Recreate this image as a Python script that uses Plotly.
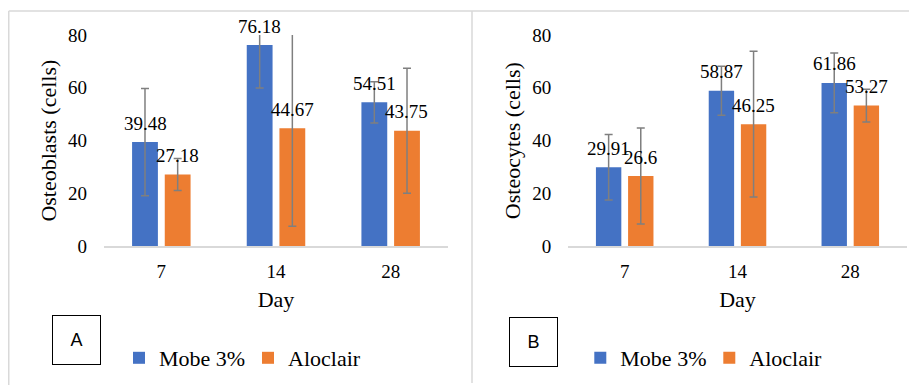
import plotly.graph_objects as go

days = ["7", "14", "28"]
series_names = ["Mobe 3%", "Aloclair"]
colors = ["#4472C4", "#ED7D31"]

osteoblasts_mobe = [39.48, 76.18, 54.51]
osteoblasts_aloclair = [27.18, 44.67, 43.75]
osteoblasts_mobe_err = [20.3, 16.2, 7.8]
osteoblasts_aloclair_err = [6.1, 37.1, 23.7]

osteocytes_mobe = [29.91, 58.87, 61.86]
osteocytes_aloclair = [26.6, 46.25, 53.27]
osteocytes_mobe_err = [12.4, 9.3, 11.3]
osteocytes_aloclair_err = [18.2, 27.6, 6.2]

y_ticks = [0, 20, 40, 60, 80]

W, H = 917, 385
OFF = 8  # page body margin offset (screen px)
SERIF = "Liberation Serif"
ERR_COLOR = "#7F7F7F"
GRID = "#D9D9D9"


def px(x):
    return (x - OFF) / W


def py(y):
    return (H - (y - OFF)) / H


fig = go.Figure()

panels = [
    ("x", "y", "legend", [osteoblasts_mobe, osteoblasts_aloclair],
     [osteoblasts_mobe_err, osteoblasts_aloclair_err]),
    ("x2", "y2", "legend2", [osteocytes_mobe, osteocytes_aloclair],
     [osteocytes_mobe_err, osteocytes_aloclair_err]),
]

for xa, ya, lg, vals, errs in panels:
    for name, color, v, e in zip(series_names, colors, vals, errs):
        fig.add_trace(go.Bar(
            x=days, y=v, name=name, marker=dict(color=color, line=dict(width=0)),
            error_y=dict(type="data", array=e, visible=True, color=ERR_COLOR,
                         thickness=1.5, width=4),
            xaxis=xa, yaxis=ya, legend=lg, showlegend=True,
        ))

# data labels
annotations = []
for (xa, ya, lg, vals, errs), slot in zip(panels, [16.3, 16.0]):
    for si, v in enumerate(vals):
        shift = -slot if si == 0 else slot
        for ci, val in enumerate(v):
            annotations.append(dict(
                x=ci, y=val, xref=xa, yref=ya, text=f"{val:g}", showarrow=False,
                xshift=shift, yshift=19, yanchor="middle",
                font=dict(family=SERIF, size=19, color="#000000"),
            ))

# panel letter boxes
for letter, cx, cy in [("A", 76.4, 340.0), ("B", 533.3, 341.5)]:
    annotations.append(dict(
        x=px(cx), y=py(cy), xref="paper", yref="paper", text=letter,
        showarrow=False, xanchor="center", yanchor="middle",
        width=45, height=46, borderpad=1, borderwidth=1, bordercolor="#000000",
        font=dict(family="Liberation Sans", size=18, color="#000000"),
    ))

fig.update_layout(annotations=annotations)

xaxis_common = dict(
    type="category", range=[-0.5, 2.5], showgrid=False, showline=True,
    linecolor=GRID, linewidth=1.5, ticks="", ticklabelstandoff=7, zeroline=False,
    automargin=False,
    tickfont=dict(family=SERIF, size=19, color="#000000"),
    title=dict(text="Day", font=dict(family=SERIF, size=22, color="#000000"), standoff=11),
)
yaxis_common = dict(
    range=[0, 80], tickvals=y_ticks, showgrid=False, showline=False, zeroline=False,
    ticks="", ticklabelstandoff=16, automargin=False,
    tickfont=dict(family=SERIF, size=19, color="#000000"),
)

legend_common = dict(
    orientation="h", xanchor="left", yanchor="middle",
    font=dict(family=SERIF, size=22, color="#000000"), bgcolor="rgba(0,0,0,0)",
    tracegroupgap=0, itemclick=False, entrywidth=84, entrywidthmode="pixels",
)

fig.update_layout(
    width=W, height=H, autosize=False, margin=dict(l=0, r=0, t=0, b=0, pad=0),
    paper_bgcolor="white", plot_bgcolor="white",
    barmode="group", bargap=0.43, bargroupgap=0.21,
    xaxis=dict(domain=[px(104), px(448)], anchor="y", **xaxis_common),
    xaxis2=dict(domain=[px(568.3), px(906.7)], anchor="y2", **xaxis_common),
    yaxis=dict(domain=[py(246.3), py(35)], anchor="x",
               title=dict(text="Osteoblasts (cells)", font=dict(family=SERIF, size=22, color="#000000"), standoff=5),
               **yaxis_common),
    yaxis2=dict(domain=[py(246.3), py(35)], anchor="x2",
                title=dict(text="Osteocytes (cells)", font=dict(family=SERIF, size=22, color="#000000"), standoff=5),
                **yaxis_common),
    legend=dict(x=px(119), y=py(358), **legend_common),
    legend2=dict(x=px(580.3), y=py(358), **legend_common),
    shapes=[
        dict(type="line", xref="paper", yref="paper", x0=px(8.75), x1=1, y0=py(11), y1=py(11),
             line=dict(color=GRID, width=1.5)),
        dict(type="line", xref="paper", yref="paper", x0=px(8.75), x1=px(8.75), y0=py(11), y1=0,
             line=dict(color=GRID, width=1.5)),
        dict(type="line", xref="paper", yref="paper", x0=px(472), x1=px(472), y0=py(11), y1=py(383),
             line=dict(color=GRID, width=1.5)),
    ],
)

fig.write_html("out.html")
